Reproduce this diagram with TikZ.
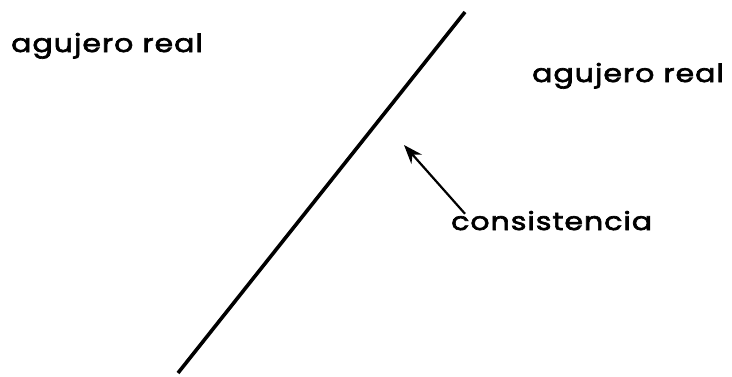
\documentclass[tikz,border=0pt]{standalone}
\usepackage{fontspec}
\setmainfont{Poppins}[LetterSpace=4,FakeStretch=1.2,FakeBold=2.6]
\usetikzlibrary{arrows.meta}

\begin{document}
\begin{tikzpicture}[
  x=1pt, y=-1pt,
  lbl/.style={anchor=base west, inner sep=0pt, font=\fontsize{25}{28}\selectfont},
  borde/.style={draw=black, line width=3.6pt},
  arr/.style={-{Stealth[length=19pt,width=14pt]}, draw=black, line width=2.2pt}
]
  \useasboundingbox (0,0) rectangle (732,376);
  \node[lbl] (izq) at (11,52) {agujero real};
  \node[lbl] (der) at (532,82) {agujero real};
  \node[lbl] (cons) at (451,230) {consistencia};
  \coordinate (abajo) at (178,373);
  \coordinate (arriba) at (465,12);
  \coordinate (punta) at (404,145);
  \draw[borde] (abajo)--(arriba);
  \draw[arr] ([xshift=14pt,yshift=-3pt]cons.north west)--(punta);
\end{tikzpicture}
\end{document}
